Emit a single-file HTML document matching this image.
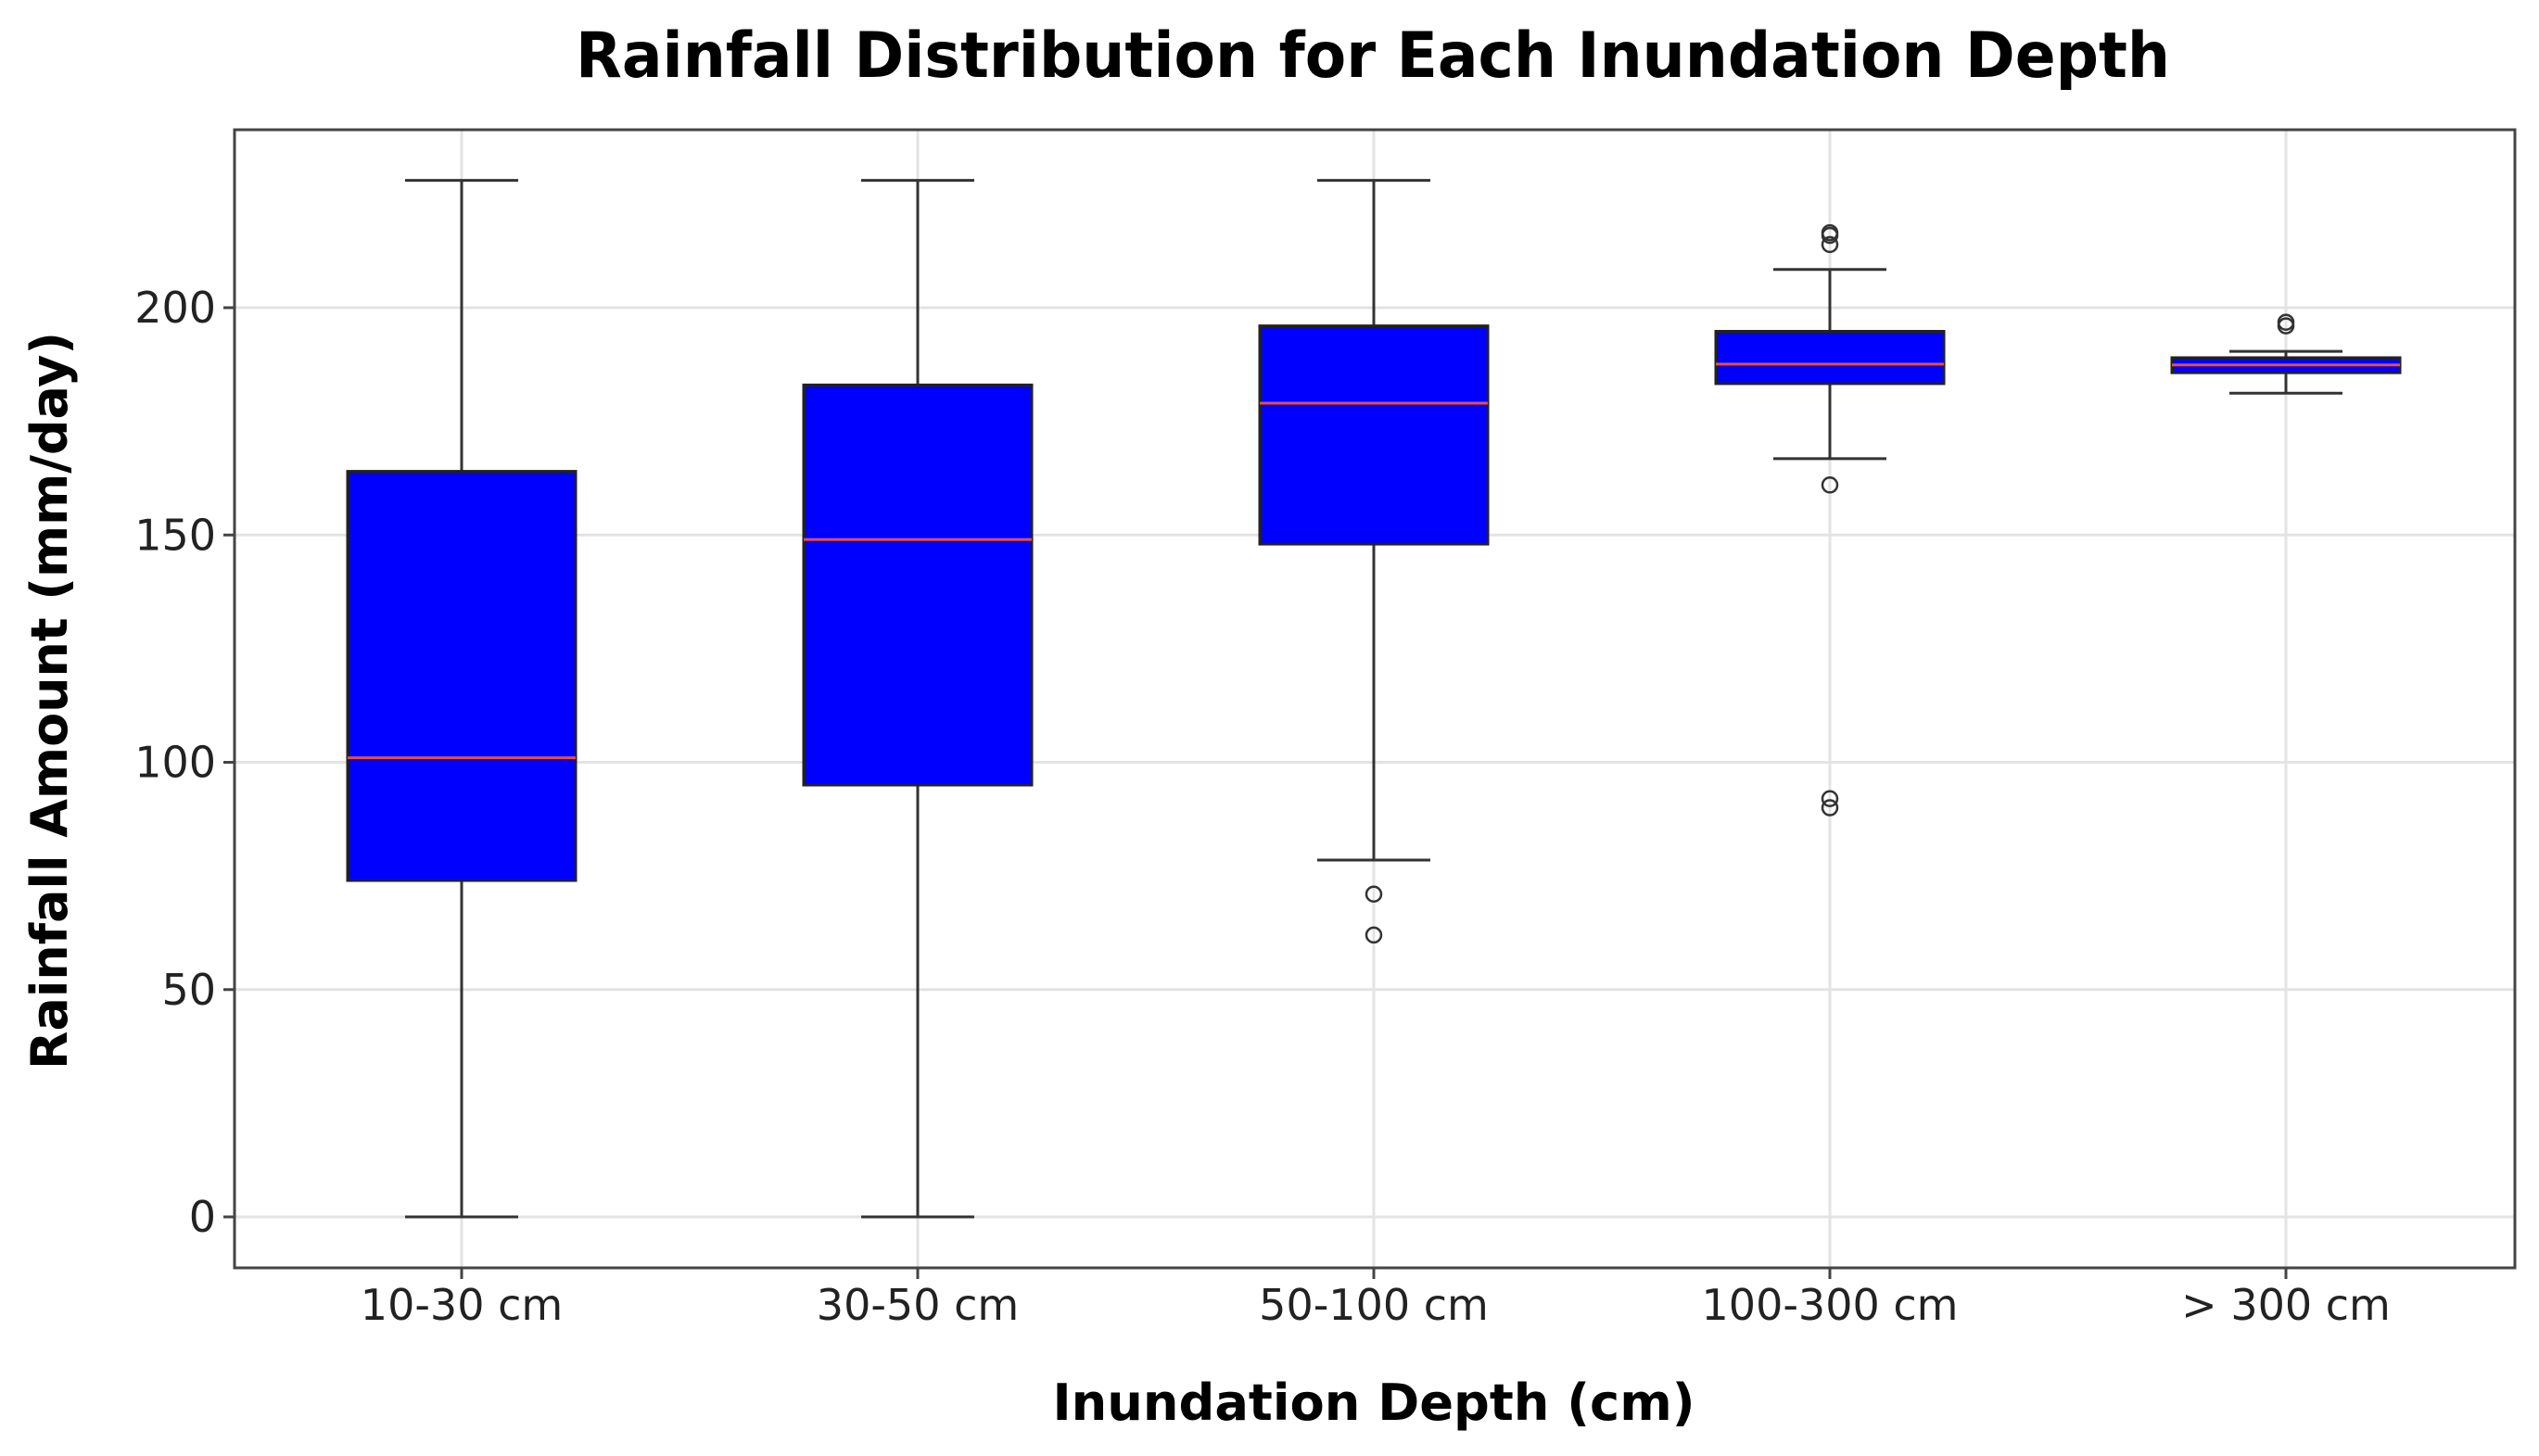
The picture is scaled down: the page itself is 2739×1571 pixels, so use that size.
<!DOCTYPE html>
<html><head><meta charset="utf-8"><style>
html,body{margin:0;padding:0;background:#fff;}
svg{display:block;font-family:"DejaVu Sans","Liberation Sans",sans-serif;}
</style></head><body>
<svg id="chart" width="2739" height="1571" viewBox="0 0 2739 1571" xmlns="http://www.w3.org/2000/svg">
<rect width="2739" height="1571" fill="#fff"/>
<text x="1481" y="83" font-size="68" font-weight="bold" text-anchor="middle" textLength="1720" lengthAdjust="spacingAndGlyphs">Rainfall Distribution for Each Inundation Depth</text>
<g id="grid"></g>
<g id="boxes"></g>
<rect x="253" y="140" width="2460" height="1228" fill="none" stroke="#444" stroke-width="3"/>
<g id="ticks"></g>
<text x="1482" y="1532" font-size="54" font-weight="bold" text-anchor="middle" textLength="693" lengthAdjust="spacingAndGlyphs">Inundation Depth (cm)</text>
<text transform="translate(72,756) rotate(-90)" font-size="54" font-weight="bold" text-anchor="middle" textLength="796" lengthAdjust="spacingAndGlyphs">Rainfall Amount (mm/day)</text>
</svg>
<script>
const categories = ["10-30 cm","30-50 cm","50-100 cm","100-300 cm","> 300 cm"];
const whiskerLow = [0, 0, 78.5, 166.8, 181.2];
const q1 = [74, 95, 148, 183.3, 185.7];
const median = [101, 149, 179, 187.6, 187.4];
const q3 = [164, 183, 196, 194.8, 189];
const whiskerHigh = [228, 228, 228, 208.4, 190.4];
const outliers = [[], [], [71, 62], [216.5, 215.9, 213.9, 161, 92, 90], [196.8, 196]];
const yTicks = [0, 50, 100, 150, 200];

const NS = "http://www.w3.org/2000/svg";
const plotL = 253, plotR = 2713, plotT = 140, plotB = 1368;
const y = v => 1313 - v * 4.905;
const x = i => 498 + i * 492;
function mk(tag, attrs, parent) {
  const e = document.createElementNS(NS, tag);
  for (const k in attrs) e.setAttribute(k, attrs[k]);
  parent.appendChild(e);
  return e;
}
const grid = document.getElementById("grid");
const ticks = document.getElementById("ticks");
const boxes = document.getElementById("boxes");
yTicks.forEach(t => {
  const g = mk("line", {x1: plotL, x2: plotR, y1: y(t), y2: y(t), stroke: "#e3e3e3", "stroke-width": 3}, grid);
  
  
  const tk = mk("line", {x1: plotL - 12, x2: plotL, y1: y(t), y2: y(t), stroke: "#444", "stroke-width": 3}, ticks);
  
  
  const lb = mk("text", {x: plotL - 20, y: y(t) + 16, "font-size": 46, "text-anchor": "end", fill: "#222"}, ticks);
  lb.textContent = t;
  
  
});
categories.forEach((c, i) => {
  const g = mk("line", {x1: x(i), x2: x(i), y1: plotT, y2: plotB, stroke: "#e3e3e3", "stroke-width": 3}, grid);
  
  
  const tk = mk("line", {x1: x(i), x2: x(i), y1: plotB, y2: plotB + 12, stroke: "#444", "stroke-width": 3}, ticks);
  
  
  const lb = mk("text", {x: x(i), y: 1424, "font-size": 46, "text-anchor": "middle", fill: "#222"}, ticks);
  lb.textContent = c;
  
  

  const grp = mk("g", {}, boxes);
  
  
  const cx = x(i), hw = 123, cw = 61;
  const s = {stroke: "#333", "stroke-width": 3};
  mk("line", Object.assign({x1: cx, x2: cx, y1: y(whiskerHigh[i]), y2: y(q3[i])}, s), grp);
  mk("line", Object.assign({x1: cx, x2: cx, y1: y(q1[i]), y2: y(whiskerLow[i])}, s), grp);
  mk("line", Object.assign({x1: cx - cw, x2: cx + cw, y1: y(whiskerHigh[i]), y2: y(whiskerHigh[i])}, s), grp);
  mk("line", Object.assign({x1: cx - cw, x2: cx + cw, y1: y(whiskerLow[i]), y2: y(whiskerLow[i])}, s), grp);
  mk("rect", {x: cx - hw, y: y(q3[i]), width: hw * 2, height: y(q1[i]) - y(q3[i]), fill: "#0000ff", stroke: "#222", "stroke-width": 3}, grp);
  mk("line", {x1: cx - hw, x2: cx + hw, y1: y(median[i]), y2: y(median[i]), stroke: "#e8503a", "stroke-width": 3}, grp);
  outliers[i].forEach(v => {
    const o = mk("circle", {cx: cx, cy: y(v), r: 8, fill: "none", stroke: "#333", "stroke-width": 2.5}, grp);
    
    
  });
});
</script>
</body></html>
